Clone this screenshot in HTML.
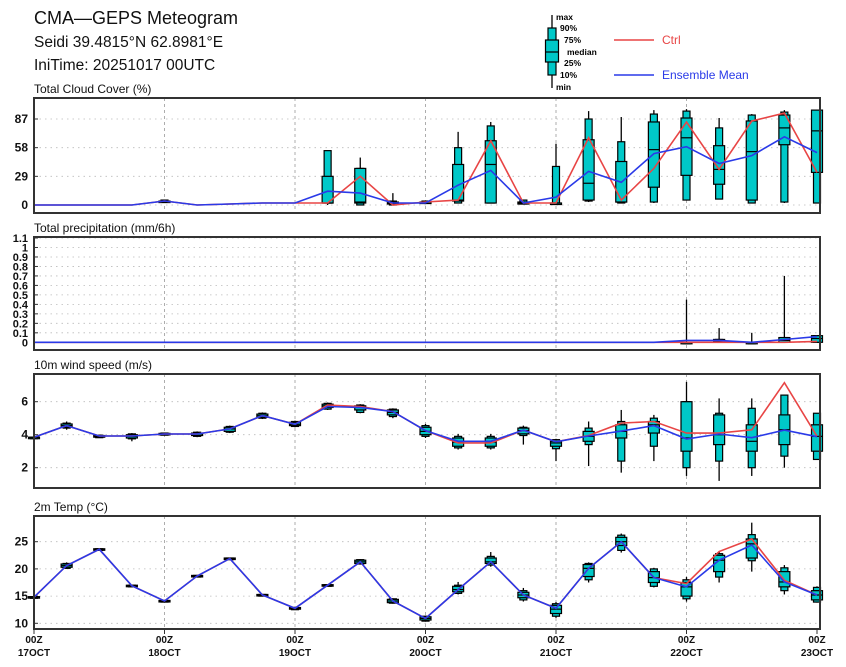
<!DOCTYPE html>
<html><head><meta charset="utf-8">
<style>
html,body{margin:0;padding:0;background:#fff;}
svg{display:block;font-family:"Liberation Sans",sans-serif;}
</style></head>
<body>
<svg id="chart" width="846" height="667" viewBox="0 0 846 667" xmlns="http://www.w3.org/2000/svg">
<text x="34" y="24" font-size="18" fill="#111">CMA—GEPS Meteogram</text>
<text x="34" y="47" font-size="15.5" fill="#111">Seidi 39.4815°N 62.8981°E</text>
<text x="34" y="70" font-size="15.5" fill="#111">IniTime: 20251017 00UTC</text>
<g>
 <line x1="552" y1="15" x2="552" y2="88" stroke="#000" stroke-width="1.3"/>
 <rect x="548" y="28" width="8" height="47" fill="#00c8c8" stroke="#000" stroke-width="1.2"/>
 <rect x="545.5" y="40" width="13" height="22" fill="#00c8c8" stroke="#000" stroke-width="1.2"/>
 <line x1="545.5" y1="52" x2="558.5" y2="52" stroke="#000" stroke-width="1.2"/>
 <g font-size="8.5" font-weight="bold" fill="#000">
  <text x="556" y="20">max</text><text x="560" y="31">90%</text><text x="564" y="43">75%</text>
  <text x="567" y="55">median</text><text x="564" y="66">25%</text><text x="560" y="78">10%</text><text x="556" y="90">min</text>
 </g>
 <line x1="614" y1="40" x2="654" y2="40" stroke="#e84545" stroke-width="1.6"/>
 <text x="662" y="44" font-size="12" fill="#e84545">Ctrl</text>
 <line x1="614" y1="75" x2="654" y2="75" stroke="#2a3ae8" stroke-width="1.6"/>
 <text x="662" y="79" font-size="12" fill="#2a3ae8">Ensemble Mean</text>
</g>
<g id="panels"></g>
</svg>
<script>
// ---- data ----
const times = ["00Z|17OCT","00Z|18OCT","00Z|19OCT","00Z|20OCT","00Z|21OCT","00Z|22OCT","00Z|23OCT"];
const cloudCtrl = [0,0,0,0,4,0,1,2,2,2,29,0,3,5,65,2,2,68,5,37,84,36,85,93,33];
const cloudMean = [0,0,0,0,4,0,1,2,2,14,12,2,2,20,35,2,8,34,23,52,59,42,50,69,53];
const cloudBox = [null,null,null,null,[3,3,4,4,4,5,5],null,null,null,null,
 [0,2,2,2,29,55,55],[0,0,2,3,37,37,48],[0,0,1,2,3,4,12],[2,2,2,3,3,4,4],
 [2,2,4,5,41,58,74],[2,2,2,41,65,80,84],[1,1,1,2,3,5,5],[2,2,2,2,2,39,62],
 [3,4,5,22,66,87,95],[2,2,3,3,44,64,89],[2,3,18,56,84,92,96],[5,5,30,68,88,95,97],
 [6,6,21,36,60,78,88],[2,2,5,54,85,91,92],[2,3,61,78,91,94,96],[2,2,33,75,96,96,96]];
const precipCtrl = [0,0,0,0,0,0,0,0,0,0,0,0,0,0,0,0,0,0,0,0,0,0,0,0,0.01];
const precipMean = [0,0,0,0,0,0,0,0,0,0,0,0,0,0,0,0,0,0,0,0,0.02,0.02,0,0.03,0.06];
const precipBox = [null,null,null,null,null,null,null,null,null,null,null,null,null,null,null,null,null,null,null,null,
 [0,0,0,0,0,0,0.45],[0,0,0,0.01,0.03,0.03,0.15],[0,0,0,0,0,0,0.1],[0,0,0,0.02,0.05,0.05,0.7],[0,0,0,0.04,0.07,0.07,0.07]];
const windCtrl = [3.84,4.55,3.92,3.92,4.04,4.04,4.35,5.16,4.63,5.8,5.7,5.4,4.25,3.5,3.5,4.28,3.57,3.95,4.7,4.8,4.1,4.1,4.3,7.15,3.9];
const windMean = [3.84,4.55,3.92,3.92,4.04,4.04,4.35,5.16,4.63,5.71,5.65,5.4,4.25,3.6,3.6,4.28,3.57,3.92,4.22,4.55,3.74,4.04,3.82,4.28,3.88];
const windBox = [[3.8,3.8,3.8,3.84,3.85,3.85,3.9],[4.3,4.4,4.45,4.55,4.65,4.7,4.8],[3.8,3.82,3.85,3.9,3.95,3.97,4.0],
 [3.6,3.75,3.8,3.9,4.0,4.05,4.1],[3.95,3.97,4.0,4.04,4.08,4.1,4.12],[3.85,3.9,3.95,4.04,4.1,4.15,4.2],
 [4.1,4.15,4.2,4.35,4.45,4.5,4.55],[4.95,5.0,5.05,5.15,5.25,5.3,5.35],[4.45,4.5,4.55,4.63,4.75,4.8,4.85],
 [5.5,5.55,5.65,5.75,5.85,5.9,5.95],[5.3,5.35,5.5,5.65,5.75,5.8,5.85],[5.0,5.1,5.2,5.35,5.5,5.55,5.6],
 [3.8,3.9,4.0,4.2,4.45,4.55,4.65],[3.1,3.2,3.3,3.55,3.8,3.9,4.05],[3.1,3.2,3.3,3.55,3.8,3.9,4.05],
 [3.4,3.95,4.05,4.25,4.4,4.45,4.55],[2.4,3.15,3.3,3.5,3.6,3.7,3.75],[2.1,3.4,3.6,3.9,4.2,4.4,4.8],
 [1.7,2.4,3.8,4.2,4.6,4.8,5.5],[2.4,3.3,4.1,4.6,4.8,5.0,5.2],[1.5,2.0,3.0,3.8,6.0,6.0,7.2],
 [1.2,2.4,3.4,4.0,5.2,5.3,6.2],[1.5,2.0,3.0,3.6,4.6,5.6,6.2],[2.0,2.7,3.4,4.3,5.2,6.4,6.4],[2.5,2.5,3.0,3.9,4.6,5.3,5.3]];
const tempCtrl = [14.8,20.6,23.6,16.9,14.1,18.7,21.9,15.2,12.75,17.0,21.3,14.1,10.9,16.2,21.3,15.2,12.75,20.1,25.0,18.4,17.3,23.2,25.5,17.9,15.2];
const tempMean = [14.8,20.6,23.6,16.9,14.1,18.7,21.9,15.2,12.75,17.0,21.3,14.1,10.9,16.2,21.3,15.2,12.75,20.1,25.0,18.4,16.7,21.6,24.4,17.6,15.2];
const tempBox = [[14.6,14.6,14.7,14.8,14.9,14.9,15.0],[20.0,20.1,20.3,20.6,20.9,21.0,21.2],[23.4,23.4,23.5,23.6,23.7,23.7,23.7],
 [16.7,16.7,16.8,16.9,17.0,17.0,17.1],[13.9,13.9,14.0,14.1,14.2,14.2,14.3],[18.5,18.5,18.6,18.7,18.8,18.8,18.9],
 [21.7,21.7,21.8,21.9,22.0,22.0,22.1],[15.0,15.0,15.1,15.2,15.3,15.3,15.4],[12.5,12.5,12.6,12.75,12.9,12.9,13.0],
 [16.8,16.8,16.9,17.0,17.1,17.1,17.2],[20.8,20.9,21.0,21.3,21.6,21.7,21.8],[13.6,13.7,13.8,14.1,14.4,14.5,14.6],
 [10.3,10.4,10.6,10.9,11.2,11.3,11.4],[15.3,15.5,15.8,16.2,16.8,17.0,17.6],[20.4,20.7,21.0,21.3,22.0,22.3,23.1],
 [14.0,14.3,14.7,15.2,15.7,16.0,16.5],[11.0,11.3,11.8,12.6,13.3,13.6,13.9],[17.5,18.0,18.6,20.1,20.8,21.0,21.2],
 [23.0,23.4,24.3,25.0,25.8,26.2,26.5],[16.6,16.8,17.5,18.4,19.5,20.0,20.2],[14.0,14.5,15.0,16.7,17.5,18.0,18.5],
 [17.5,18.5,19.5,21.6,22.5,22.8,23.2],[19.5,21.5,22.0,24.6,25.5,26.3,28.5],[15.3,16.0,16.7,17.6,19.5,20.2,20.7],
 [13.8,13.9,14.3,15.2,16.0,16.6,16.8]];
const cloudTicks = [0,29,58,87];
const precipTicks = [0,0.1,0.2,0.3,0.4,0.5,0.6,0.7,0.8,0.9,1,1.1];
const windTicks = [2,4,6];
const tempTicks = [10,15,20,25];

// ---- layout ----
const NS="http://www.w3.org/2000/svg";
const X0=34, X1=820, STEP=(817-34)/24;
const xs = i => X0 + i*STEP;
const root=document.getElementById('panels');
function el(tag,attrs,parent){const e=document.createElementNS(NS,tag);for(const k in attrs)e.setAttribute(k,attrs[k]);(parent||root).appendChild(e);return e;}

function panel(name,title,top,bottom,v0,y0,v1,y1,ticks,ctrl,mean,boxes,tickFmt,fs){
  const ys = v => y0 + (v-v0)*(y1-y0)/(v1-v0);
  const g=el('g',{});
  
  
  const t=el('text',{x:34,y:top-5,'font-size':12,fill:'#111'},g);t.textContent=title;
  
  
  // grid horizontal
  ticks.forEach(v=>{
    const y=ys(v);
    el('line',{x1:X0,x2:X1,y1:y,y2:y,stroke:'#bbb','stroke-width':0.8,'stroke-dasharray':'1.5,4'},g);
    const tl=el('text',{x:28,y:y+4,'font-size':fs,'font-weight':'bold','text-anchor':'end',fill:'#111'},g);
    tl.textContent=tickFmt(v);
    
    
    el('line',{x1:X0,x2:X0+4,y1:y,y2:y,stroke:'#333','stroke-width':1},g);
  });
  for(let d=1;d<6;d++){
    const x=xs(d*4);
    el('line',{x1:x,x2:x,y1:top,y2:bottom,stroke:'#999','stroke-width':0.8,'stroke-dasharray':'3,3'},g);
  }
  // boxes
  boxes.forEach((b,i)=>{
    if(!b)return;
    const x=xs(i);
    const bg=el('g',{},g);
    
    
    el('line',{x1:x,x2:x,y1:ys(b[0]),y2:ys(b[6]),stroke:'#000','stroke-width':1.3},bg);
    const yA=ys(b[5]),yB=ys(b[1]);
    el('rect',{x:x-3.5,y:Math.min(yA,yB),width:7,height:Math.max(1.5,Math.abs(yB-yA)),fill:'#00c8c8',stroke:'#000','stroke-width':1.2},bg);
    const yC=ys(b[4]),yD=ys(b[2]);
    el('rect',{x:x-5.5,y:Math.min(yC,yD),width:11,height:Math.max(1.5,Math.abs(yD-yC)),fill:'#00c8c8',stroke:'#000','stroke-width':1.2},bg);
    el('line',{x1:x-5.5,x2:x+5.5,y1:ys(b[3]),y2:ys(b[3]),stroke:'#000','stroke-width':1.2},bg);
  });
  const pts=a=>a.map((v,i)=>xs(i).toFixed(1)+','+ys(v).toFixed(1)).join(' ');
  const c=el('polyline',{points:pts(ctrl),fill:'none',stroke:'#e84545','stroke-width':1.6},g);
  
  
  const m=el('polyline',{points:pts(mean),fill:'none',stroke:'#2a3ae8','stroke-width':1.6},g);
  
  
  el('rect',{x:X0,y:top,width:X1-X0,height:bottom-top,fill:'none',stroke:'#333','stroke-width':2},g);
  return g;
}
panel('cloud','Total Cloud Cover (%)',98,213,0,205,87,119,cloudTicks,cloudCtrl,cloudMean,cloudBox,v=>String(v),12);
panel('precip','Total precipitation (mm/6h)',237,350,0,342.3,1.1,238,precipTicks,precipCtrl,precipMean,precipBox,v=>String(v),11);
panel('wind','10m wind speed (m/s)',374,488,4,434.7,6,401.7,windTicks,windCtrl,windMean,windBox,v=>String(v),12);
panel('temp','2m Temp (°C)',516,629,10,623.3,25,541.7,tempTicks,tempCtrl,tempMean,tempBox,v=>String(v),12);

// x-axis labels
times.forEach((t,d)=>{
  const x=xs(d*4);
  el('line',{x1:x,x2:x,y1:629,y2:634,stroke:'#333','stroke-width':1});
  const parts=t.split('|');
  const a=el('text',{x:x,y:643,'font-size':10,'font-weight':'bold','text-anchor':'middle',fill:'#111'});
  a.textContent=parts[0];
  
  
  const b=el('text',{x:x,y:656,'font-size':10,'font-weight':'bold','text-anchor':'middle',fill:'#111'});
  b.textContent=parts[1];
  
  
});
</script>
</body></html>
